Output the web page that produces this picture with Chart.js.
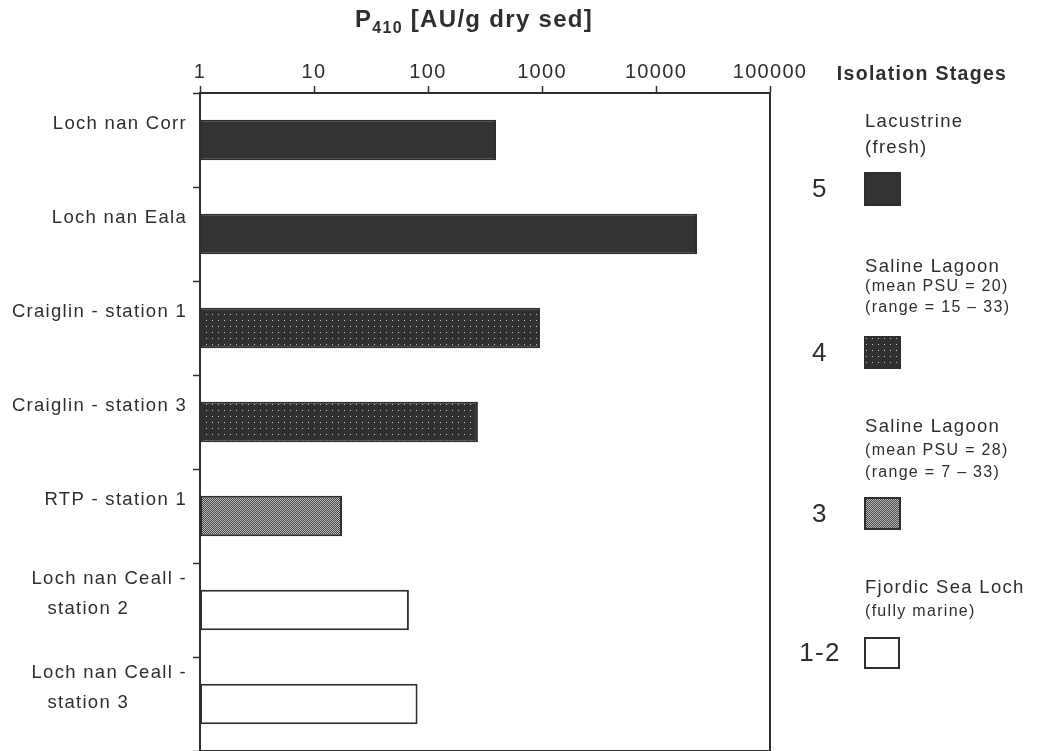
<!DOCTYPE html>
<html>
<head>
<meta charset="utf-8">
<script src="https://cdn.jsdelivr.net/npm/chart.js@4/dist/chart.umd.min.js"></script>
<style>
  html, body { margin: 0; padding: 0; background: #ffffff; }
  #wrap { width: 1044px; height: 751px; position: relative; }
</style>
</head>
<body>
<div id="wrap"><canvas id="c" width="1044" height="751"></canvas></div>
<script>
// ---------- DATA ----------
const NB = '\u00a0';
const categories = [
  'Loch nan Corr',
  'Loch nan Eala',
  'Craiglin - station 1',
  'Craiglin - station 3',
  'RTP - station 1',
  ['Loch nan Ceall -', 'station 2' + NB.repeat(9)],
  ['Loch nan Ceall -', 'station 3' + NB.repeat(9)]
];
const p410Values = [395, 22900, 960, 274, 17.6, 68, 81];
const siteStages = ['5', '5', '4', '4', '3', '1-2', '1-2'];
const xTickValues = [1, 10, 100, 1000, 10000, 100000];
const xTickLabels = ['1', '10', '100', '1000', '10000', '100000'];
const legendStages = ['5', '4', '3', '1-2'];
const legendTitles = ['Lacustrine', 'Saline Lagoon', 'Saline Lagoon', 'Fjordic Sea Loch'];
const legendNotes = [
  ['(fresh)'],
  ['(mean PSU = 20)', '(range = 15 \u2013 33)'],
  ['(mean PSU = 28)', '(range = 7 \u2013 33)'],
  ['(fully marine)']
];
const titleMain = 'P';
const titleSub = '410';
const titleRest = ' [AU/g dry sed]';
const legendHeader = 'Isolation Stages';

// ---------- STYLE ----------
const FONT = "'Liberation Sans', Arial, Helvetica, sans-serif";
const INK = '#2e2e2e';
const SPACING = '1.3px';

function makePattern(kind) {
  const c = document.createElement('canvas');
  const g = c.getContext('2d');
  if (kind === 'dots') {
    c.width = 6; c.height = 6;
    g.fillStyle = '#303030'; g.fillRect(0, 0, 6, 6);
    g.fillStyle = '#c8c8c8'; g.fillRect(2, 2, 1, 1);
  } else {
    c.width = 2; c.height = 2;
    g.fillStyle = '#4a4a4a'; g.fillRect(0, 0, 2, 2);
    g.fillStyle = '#b8b8b8'; g.fillRect(0, 0, 1, 1); g.fillRect(1, 1, 1, 1);
  }
  const main = document.getElementById('c').getContext('2d');
  return main.createPattern(c, 'repeat');
}
const stageFill = {
  '5': '#333333',
  '4': makePattern('dots'),
  '3': makePattern('dither'),
  '1-2': '#ffffff'
};

// ---------- PLUGINS ----------
const spacing = {
  id: 'spacing',
  beforeInit(chart) { chart.ctx.letterSpacing = SPACING; },
  beforeLayout(chart) { chart.ctx.letterSpacing = SPACING; },
  beforeDraw(chart) { chart.ctx.letterSpacing = SPACING; }
};

const frame = {
  id: 'frame',
  afterDraw(chart) {
    const { ctx, chartArea: a } = chart;
    ctx.save();
    ctx.strokeStyle = INK;
    ctx.lineWidth = 2;
    ctx.beginPath();
    ctx.moveTo(a.right, a.top);
    ctx.lineTo(a.right, a.bottom);
    ctx.lineTo(a.left, a.bottom);
    ctx.stroke();
    ctx.restore();
  }
};

const titleAndLegend = {
  id: 'titleAndLegend',
  afterDraw(chart) {
    const ctx = chart.ctx;
    ctx.save();
    ctx.fillStyle = INK;
    // Title with subscript
    const big = 'bold 24px ' + FONT, small = 'bold 16px ' + FONT;
    ctx.font = big; const w1 = ctx.measureText(titleMain).width; const w3 = ctx.measureText(titleRest).width;
    ctx.font = small; const w2 = ctx.measureText(titleSub).width;
    const cx = 474;
    let x = cx - (w1 + w2 + w3) / 2;
    const base = 27;
    ctx.textBaseline = 'alphabetic';
    ctx.textAlign = 'left';
    ctx.font = big; ctx.fillText(titleMain, x, base); x += w1;
    ctx.font = small; ctx.fillText(titleSub, x, base + 6); x += w2;
    ctx.font = big; ctx.fillText(titleRest, x, base);

    // Legend
    ctx.textBaseline = 'middle';
    ctx.textAlign = 'center';
    ctx.font = 'bold 19.5px ' + FONT;
    ctx.fillText(legendHeader, 922, 75);
    const groups = [
      { lines: [122, 148], box: [865, 173, 35, 32] },
      { lines: [267, 287, 308], box: [865, 337, 35, 31] },
      { lines: [427, 451, 473], box: [865, 498, 35, 31] },
      { lines: [588, 612], box: [865, 638, 34, 30] }
    ];
    groups.forEach((gr, i) => {
      ctx.textAlign = 'left';
      ctx.font = '18.5px ' + FONT;
      ctx.fillText(legendTitles[i], 865, gr.lines[0]);
      legendNotes[i].forEach((t, j) => {
        ctx.font = (i === 0 ? '18.5px ' : '16px ') + FONT;
        ctx.fillText(t, 865, gr.lines[j + 1]);
      });
      const [bx, by, bw, bh] = gr.box;
      ctx.fillStyle = stageFill[legendStages[i]];
      ctx.fillRect(bx, by, bw, bh);
      ctx.strokeStyle = INK;
      ctx.lineWidth = 2;
      ctx.strokeRect(bx, by, bw, bh);
      ctx.fillStyle = INK;
      ctx.textAlign = 'center';
      ctx.font = '26px ' + FONT;
      ctx.fillText(legendStages[i], 820, by + bh / 2 + 1);
    });
    ctx.restore();
  }
};

// ---------- CHART ----------
new Chart(document.getElementById('c'), {
  type: 'bar',
  data: {
    labels: categories,
    datasets: [{
      data: p410Values,
      backgroundColor: siteStages.map(s => stageFill[s]),
      borderColor: INK,
      borderWidth: 2,
      borderSkipped: false,
      barPercentage: 0.43,
      categoryPercentage: 1
    }]
  },
  options: {
    indexAxis: 'y',
    responsive: false,
    animation: false,
    layout: { padding: { left: 0, right: 274, top: 0, bottom: 0 } },
    plugins: { legend: { display: false }, tooltip: { enabled: false }, title: { display: false } },
    scales: {
      x: {
        type: 'logarithmic',
        position: 'top',
        min: 1,
        max: 100000,
        afterBuildTicks(scale) { scale.ticks = xTickValues.map(v => ({ value: v })); },
        afterFit(scale) { scale.height = 93; scale.paddingLeft = 0; scale.paddingRight = 0; },
        grid: { drawOnChartArea: false, drawTicks: true, tickLength: 7, color: INK, tickColor: INK, tickWidth: 1.5 },
        border: { display: true, color: INK, width: 2 },
        ticks: {
          autoSkip: false, maxRotation: 0, padding: 2,
          color: INK, font: { family: FONT, size: 20 },
          callback(v) { const i = xTickValues.indexOf(v); return i >= 0 ? xTickLabels[i] : ''; }
        }
      },
      y: {
        afterFit(scale) { scale.width = 200; scale.paddingTop = 0; scale.paddingBottom = 0; },
        grid: { drawOnChartArea: false, drawTicks: true, tickLength: 7, offset: true, color: INK, tickColor: INK, tickWidth: 1.5 },
        border: { display: true, color: INK, width: 2 },
        ticks: {
          autoSkip: false, padding: 6, labelOffset: -16,
          color: INK, font: { family: FONT, size: 18.5, lineHeight: 1.6 }
        }
      }
    }
  },
  plugins: [spacing, frame, titleAndLegend]
});
</script>
</body>
</html>
